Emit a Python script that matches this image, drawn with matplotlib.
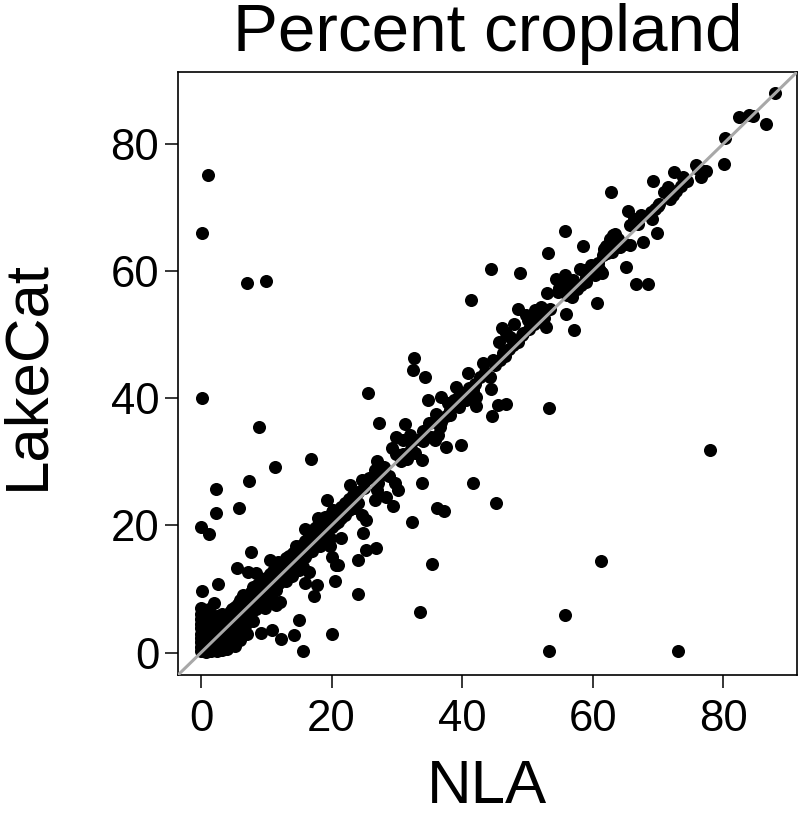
import matplotlib
matplotlib.use("Agg")
import matplotlib.pyplot as plt

plt.rcParams['font.family'] = ['Liberation Sans', 'DejaVu Sans']

title = "Percent cropland"
x_label = "NLA"
y_label = "LakeCat"
ticks = [0, 20, 40, 60, 80]

# (NLA, LakeCat) pairs, grouped by region
origin_cluster = [
    (0, 0.2), (0, 0.9), (0, 1.6), (0, 2.3), (0, 3.0), (0, 3.8), (0, 4.5), (0, 5.3), (0, 6.1), (0, 7.0),
    (0.4, 0.5), (0.4, 1.9), (0.4, 3.3), (0.4, 4.9), (0.4, 6.5),
    (0.8, 0.1), (0.8, 1.2), (0.8, 2.6), (0.8, 4.1), (0.8, 5.6),
    (1.2, 0.7), (1.2, 1.9), (1.2, 3.2), (1.2, 4.6), (1.2, 6.9),
    (1.6, 0.3), (1.6, 1.4), (1.6, 2.7), (1.6, 3.9), (1.6, 5.2),
    (2.0, 0.9), (2.0, 2.1), (2.0, 3.4), (2.0, 4.4), (2.0, 7.8),
    (2.4, 0.2), (2.4, 1.6), (2.4, 2.9), (2.4, 4.0), (2.4, 5.8),
    (2.8, 1.0), (2.8, 2.3), (2.8, 3.6), (2.8, 4.8),
    (3.2, 0.4), (3.2, 1.7), (3.2, 3.1), (3.2, 4.3), (3.2, 6.1),
    (3.6, 1.2), (3.6, 2.6), (3.6, 3.9), (3.6, 5.0),
    (4.0, 0.6), (4.0, 2.0), (4.0, 3.5), (4.0, 4.7), (4.0, 5.9),
    (4.4, 1.4), (4.4, 3.0), (4.4, 4.2), (4.4, 6.4),
    (4.8, 2.3), (4.8, 3.8), (4.8, 5.3), (4.8, 6.8),
    (5.2, 1.0), (5.2, 4.4), (5.2, 5.7), (5.2, 7.2),
    (5.6, 3.2), (5.6, 5.0), (5.6, 6.3), (5.6, 7.6),
    (6.0, 2.0), (6.0, 4.8), (6.0, 6.8), (6.0, 8.2),
    (6.4, 5.6), (6.4, 7.1), (6.4, 9.0),
    (6.8, 4.2), (6.8, 6.3), (6.8, 7.7), (6.8, 8.6),
    (7.2, 5.5), (7.2, 7.0), (7.2, 8.9),
    (7.6, 6.2), (7.6, 8.1), (7.6, 9.6),
    (8.0, 5.0), (8.0, 7.3), (8.0, 8.7), (8.0, 10.3),
    (8.4, 6.9), (8.4, 8.0), (8.4, 9.4),
    (8.8, 7.8), (8.8, 9.1), (8.8, 10.8),
    (9.2, 8.5), (9.2, 9.9), (9.2, 11.2),
    (9.6, 7.6), (9.6, 9.2), (9.6, 10.5),
]

low_band = [
    (10.0, 8.9), (10.0, 10.2), (10.0, 11.8), (10.5, 9.6), (10.5, 11.0), (10.5, 12.4),
    (11.0, 10.4), (11.0, 11.5), (11.0, 12.9), (11.5, 9.9), (11.5, 11.2), (11.5, 12.2),
    (12.0, 10.9), (12.0, 12.3), (12.0, 13.4), (12.5, 11.6), (12.5, 12.8), (12.5, 14.1),
    (13.0, 11.2), (13.0, 12.4), (13.0, 13.7), (13.0, 14.9), (13.5, 12.6), (13.5, 13.8),
    (13.5, 15.2), (14.0, 12.0), (14.0, 13.3), (14.0, 14.6), (14.5, 13.4), (14.5, 14.4),
    (14.5, 15.8), (15.0, 13.0), (15.0, 14.9), (15.0, 16.2), (15.5, 14.5), (15.5, 15.6),
    (15.5, 17.0), (16.0, 15.0), (16.0, 16.4), (16.0, 17.5), (16.5, 15.8), (16.5, 17.1),
    (16.5, 18.3), (17.0, 16.0), (17.0, 17.8), (17.0, 18.9), (17.5, 16.9), (17.5, 18.4),
    (17.5, 19.6), (18.0, 17.6), (18.0, 19.2), (18.0, 20.1), (18.5, 18.0), (18.5, 19.7),
    (18.5, 20.6), (19.0, 18.6), (19.0, 20.2), (19.0, 21.3), (19.5, 19.3), (19.5, 20.8),
    (20.0, 19.8), (20.0, 21.2), (20.0, 22.1), (20.5, 20.3), (20.5, 21.9), (21.0, 20.6),
    (21.0, 22.5), (21.5, 21.1), (21.5, 22.9), (22.0, 21.7), (22.0, 23.6), (22.7, 22.4),
    (22.7, 24.2), (23.3, 22.9), (23.3, 24.8), (24.0, 23.6), (24.0, 25.3),
]

near_band = [
    (7.7, 15.8), (5.5, 13.3), (7.2, 12.7), (8.5, 12.5), (2.6, 10.8), (0.1, 9.7),
    (10.5, 14.6), (11.5, 14.0), (16.0, 10.9), (17.8, 10.7), (17.3, 8.9), (12.1, 8.0),
    (11.5, 7.5), (15.0, 5.2), (9.2, 3.1), (10.9, 3.6), (12.3, 2.2), (14.2, 2.8),
    (15.6, 0.2), (7.0, 2.9), (9.8, 7.0), (11.0, 8.3), (11.8, 14.3), (15.1, 14.6),
    (15.6, 13.5), (16.6, 12.7), (20.7, 13.8), (20.5, 11.3), (20.1, 2.9), (24.0, 9.2),
    (15.9, 19.5), (16.9, 18.8), (14.6, 16.7), (14.1, 15.6), (21.5, 18.0),
    (25.3, 16.1), (26.8, 16.4), (20.0, 15.1), (21.0, 13.8), (24.0, 14.6),
    (17.7, 18.2), (18.4, 17.2), (19.7, 18.0), (18.2, 16.7), (19.7, 16.7),
    (17.9, 21.1), (20.2, 22.4), (21.0, 21.6), (24.6, 21.6), (25.3, 20.8), (24.8, 18.8),
    (19.3, 24.0), (22.5, 23.2), (23.5, 22.8), (28.4, 24.4), (29.4, 23.1), (26.6, 24.0),
    (22.8, 26.4), (24.6, 27.1), (25.8, 27.4), (27.1, 26.6), (26.9, 25.6),
    (29.7, 26.6), (30.2, 25.6), (26.9, 30.2), (28.1, 29.2), (26.6, 28.7),
    (29.2, 32.1), (29.9, 31.3), (29.9, 33.9), (27.3, 36.1), (8.9, 35.4),
    (25.0, 25.9), (27.5, 27.9), (28.0, 28.6), (28.8, 27.8),
]

mid_band = [
    (30.6, 30.1), (31.0, 31.2), (31.5, 30.4), (32.2, 32.0), (32.8, 31.4), (33.5, 33.6),
    (34.0, 34.8), (34.6, 34.0), (36.0, 36.8), (36.8, 36.3), (37.6, 37.2), (38.2, 37.4),
    (38.8, 39.8), (39.6, 40.4), (40.3, 40.9), (41.0, 41.6), (42.0, 42.3), (42.8, 43.4),
    (43.5, 44.1), (44.2, 43.3), (45.0, 45.2), (45.8, 46.0), (46.5, 46.6), (47.2, 47.7),
    (47.8, 48.4), (48.6, 48.9), (49.4, 50.2), (50.3, 50.9), (51.0, 51.6), (51.8, 52.1),
    (32.7, 46.4), (32.5, 44.5), (34.3, 43.4), (25.6, 40.8), (34.8, 39.8), (40.9, 44.0),
    (43.2, 45.5), (44.7, 46.0), (46.2, 47.1), (44.5, 41.4), (39.1, 41.7), (41.7, 41.3),
    (42.2, 40.2), (36.8, 40.2), (37.8, 39.2), (39.6, 38.7), (40.6, 39.7), (42.2, 38.8),
    (36.0, 37.6), (38.1, 38.1), (45.5, 38.9), (46.8, 39.1), (44.6, 37.2), (31.2, 35.9),
    (35.0, 36.1), (36.6, 35.5), (36.3, 34.2), (35.3, 33.9), (30.9, 33.4), (32.0, 34.2),
    (32.7, 33.4), (37.5, 32.4), (39.9, 32.6), (35.8, 33.4), (34.0, 33.2), (33.8, 30.3),
    (33.9, 26.6), (36.1, 22.7), (37.3, 22.2), (32.3, 20.5),
    (46.1, 51.1), (45.7, 48.9), (46.8, 50.2), (48.0, 51.7), (47.3, 49.7), (49.1, 49.9),
    (41.4, 55.4),
]

upper_band = [
    (48.5, 54.1), (49.8, 53.1), (51.1, 53.9), (52.1, 54.4), (53.4, 54.1), (50.1, 52.3),
    (52.6, 52.6), (52.9, 51.2), (51.4, 53.1), (55.9, 53.2), (57.2, 50.7), (53.0, 56.6),
    (54.4, 58.7), (55.7, 59.4), (54.9, 57.3), (55.7, 58.1), (56.5, 57.4), (57.0, 58.6),
    (56.0, 56.2), (54.7, 56.7), (60.6, 55.0), (58.0, 60.4), (58.8, 60.2), (59.8, 60.9),
    (61.3, 59.9), (60.3, 59.4), (59.0, 59.0), (61.5, 59.7), (65.1, 60.7), (66.6, 57.9),
    (68.4, 57.9), (56.8, 55.9), (57.6, 57.1), (58.2, 57.8), (59.0, 58.2), (60.0, 60.6),
    (60.8, 61.2), (61.0, 60.4), (62.2, 62.9), (63.0, 63.0),
    (55.7, 66.3), (58.5, 63.9), (53.1, 62.8), (44.5, 60.3), (48.8, 59.7),
    (63.1, 65.7), (62.6, 64.6), (63.6, 63.8), (61.8, 63.4), (61.6, 62.5),
    (63.4, 65.9), (63.9, 65.1), (62.6, 65.1), (62.1, 64.0), (64.9, 64.3), (65.7, 64.1),
    (64.2, 63.8), (67.7, 64.6), (69.8, 66.0), (65.7, 67.2), (66.9, 67.4), (65.4, 69.4),
    (66.4, 68.2), (67.4, 68.8), (69.1, 68.2), (70.2, 70.6), (69.5, 69.8), (69.0, 69.3),
    (70.0, 70.3), (71.5, 73.2), (71.0, 72.4), (72.3, 71.9), (71.8, 71.4), (62.8, 72.4),
    (69.3, 74.1), (72.4, 75.5), (73.8, 74.8), (72.8, 72.6), (73.6, 73.4), (74.5, 74.2),
    (75.9, 76.7), (76.9, 75.8), (77.4, 75.7), (76.6, 74.8), (76.1, 76.0),
    (80.1, 76.9), (80.2, 80.9), (82.4, 84.2), (84.0, 84.5), (84.5, 84.4), (86.6, 83.2),
    (88.0, 88.0),
]

outliers = [
    (0.1, 66.0), (1.0, 75.1), (7.0, 58.1), (9.9, 58.4), (0.1, 40.0), (11.3, 29.2),
    (16.9, 30.4), (7.3, 27.0), (2.3, 25.7), (2.3, 21.9), (5.9, 22.8), (0, 19.7),
    (1.3, 18.6), (77.9, 31.9), (55.7, 5.9), (53.3, 0.2), (73.0, 0.2), (53.3, 38.5),
    (61.2, 14.4), (45.2, 23.6), (41.6, 26.7), (35.4, 14.0), (33.6, 6.4),
]

groups = [origin_cluster, low_band, near_band, mid_band, upper_band, outliers]
nla = [p[0] for g in groups for p in g]
lakecat = [p[1] for g in groups for p in g]

fig = plt.figure(figsize=(8, 8.19), dpi=100)
W, H = 800, 819
left, right, top, bottom = 178, 797, 72, 675
ax = fig.add_axes([left / W, 1 - bottom / H, (right - left) / W, (bottom - top) / H])

ax.plot(nla, lakecat, 'o', color='black', ms=9.4, mec='none', zorder=2)
ax.axline((0, 0), slope=1, color='#a8a8a8', lw=2.2, zorder=3)

ax.set_xlim(-3.52, 91.3)
ax.set_ylim(-3.52, 91.3)
ax.set_xticks(ticks)
ax.set_yticks(ticks)
ax.tick_params(direction='out', length=9.5, width=1.1, labelsize=31.5, color='black')
ax.tick_params(axis='x', pad=8)
ax.tick_params(axis='y', pad=4)
for s in ax.spines.values():
    s.set_linewidth(1.2)
    s.set_color('black')

fig.text(488 / W, 1 - 51 / H, title, ha='center', va='baseline', fontsize=48.5)
fig.text(487.5 / W, 1 - 803 / H, x_label, ha='center', va='baseline', fontsize=44.5)
fig.text(28 / W, 1 - 375 / H, y_label, ha='center', va='center', rotation=90, fontsize=44.5)

fig.savefig('out.png', dpi=100)
